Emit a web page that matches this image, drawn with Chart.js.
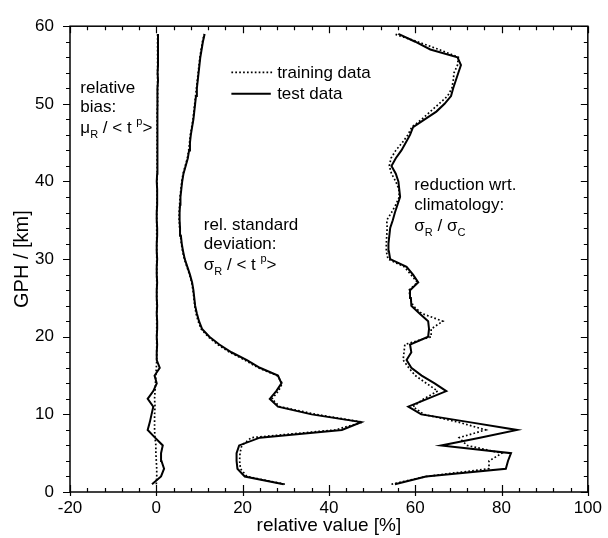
<!DOCTYPE html>
<html lang="en">
<head>
    <meta charset="utf-8"/>
    <title>GPH profiles</title>
    <script src="https://cdn.jsdelivr.net/npm/chart.js"></script>
    <style>
        html, body { margin: 0; padding: 0; background: #fff; }
        #wrap { width: 608px; height: 538px; }
    </style>
</head>
<body>
<div id="wrap"><canvas id="profileChart" width="608" height="538"></canvas></div>
<script>
    // Height levels in km
    const heights = [1, 2, 3, 4, 5, 6, 7, 8, 9, 10, 11, 12, 13, 14, 15, 16, 17, 18, 19, 20,
        21, 22, 23, 24, 25, 26, 27, 28, 29, 30, 31, 32, 33, 34, 35, 36, 37, 38, 39, 40,
        41, 42, 43, 44, 45, 46, 47, 48, 49, 50, 51, 52, 53, 54, 55, 56, 57, 58, 59];

    // relative bias  mu_R / <t^p>  [%]
    const biasTest = [-1.0, 1.1, 1.8, 1.2, 1.1, 1.5, -0.3, -2.0, -1.5, -1.1, -0.7, -2.0, -0.7, 0.1, -0.4, 0.8, 0.1, 0.1, 0.2, 0.1,
        0.2, 0.2, 0.1, 0.2, 0.1, 0.1, 0.2, 0.1, 0.1, 0.2, 0.1, 0.1, 0.2, 0.2, 0.1, 0.1, 0.2, 0.2, 0.2, 0.1,
        0.2, 0.2, 0.2, 0.3, 0.2, 0.3, 0.3, 0.2, 0.3, 0.3, 0.3, 0.3, 0.4, 0.3, 0.4, 0.4, 0.4, 0.4, 0.4];
    const biasTrain = [0.0, 0.1, 0.1, 0.0, -0.1, -0.1, -0.3, -0.4, -0.4, -0.4, -0.3, -0.4, -0.3, -0.2, -0.1, 0.0, 0.1, 0.1, 0.1, 0.1,
        0.1, 0.1, 0.1, 0.1, 0.1, 0.1, 0.1, 0.1, 0.1, 0.1, 0.1, 0.1, 0.1, 0.1, 0.1, 0.1, 0.1, 0.2, 0.2, 0.2,
        0.2, 0.2, 0.2, 0.2, 0.2, 0.2, 0.2, 0.2, 0.2, 0.3, 0.3, 0.3, 0.3, 0.3, 0.3, 0.3, 0.3, 0.3, 0.3];

    // relative standard deviation  sigma_R / <t^p>  [%]
    const stdTest = [29.5, 20.5, 18.8, 18.6, 18.6, 19.2, 24.0, 43.0, 47.5, 36.0, 28.2, 26.3, 27.8, 29.0, 28.2, 24.0, 21.0, 17.4, 14.6, 12.3,
        10.6, 9.9, 9.4, 9.0, 8.8, 8.6, 8.3, 7.8, 7.2, 6.6, 6.2, 5.9, 5.7, 5.5, 5.4, 5.4, 5.5, 5.6, 5.8, 6.0,
        6.3, 6.8, 7.3, 7.6, 7.8, 8.0, 8.3, 8.6, 8.8, 9.0, 9.2, 9.4, 9.6, 9.8, 10.0, 10.2, 10.5, 10.8, 11.2];
    const stdTrain = [29.8, 21.0, 19.5, 19.3, 19.4, 19.8, 22.0, 41.5, 47.8, 37.0, 28.6, 26.8, 28.3, 29.2, 28.0, 23.6, 20.5, 17.0, 14.2, 12.0,
        10.4, 9.7, 9.2, 8.9, 8.7, 8.5, 8.2, 7.7, 7.1, 6.5, 6.1, 5.8, 5.6, 5.4, 5.3, 5.3, 5.4, 5.5, 5.7, 5.9,
        6.2, 6.7, 7.2, 7.5, 7.7, 7.9, 8.2, 8.5, 8.7, 8.9, 9.1, 9.3, 9.5, 9.7, 9.9, 10.1, 10.4, 10.7, 11.1];

    // reduction wrt. climatology  sigma_R / sigma_C  [%]
    const redTest = [55.3, 62.5, 81.0, 81.5, 82.2, 66.0, 75.0, 83.6, 72.5, 61.4, 58.4, 62.8, 67.2, 64.5, 61.5, 59.1, 58.0, 59.1, 58.8, 63.0,
        63.2, 63.0, 61.0, 59.1, 59.0, 58.8, 60.7, 59.5, 58.0, 54.2, 53.9, 53.8, 54.0, 54.2, 54.8, 55.3, 55.9, 56.5, 56.3, 56.1,
        55.5, 54.5, 55.5, 56.8, 57.8, 58.8, 59.5, 62.2, 64.9, 66.8, 68.3, 68.8, 69.4, 70.0, 70.6, 69.8, 63.5, 60.0, 56.1];
    const redTrain = [54.5, 62.5, 77.1, 77.1, 80.1, 72.0, 70.2, 76.3, 70.0, 62.0, 59.5, 62.0, 65.2, 62.6, 60.0, 58.5, 57.2, 57.4, 57.6, 63.7,
        63.7, 66.4, 61.5, 59.5, 58.8, 58.6, 60.5, 59.0, 57.5, 53.7, 53.3, 53.3, 53.4, 53.5, 53.4, 54.5, 55.5, 56.3, 56.2, 55.5,
        54.5, 54.0, 54.4, 55.5, 57.0, 58.3, 59.2, 61.5, 63.5, 65.5, 67.5, 68.5, 68.8, 69.0, 69.8, 70.0, 65.5, 60.5, 55.2];

    const xTicks = [-20, 0, 20, 40, 60, 80, 100];
    const yTicks = [0, 10, 20, 30, 40, 50, 60];

    const FONT = 'Arial, "Liberation Sans", sans-serif';

    function profile(values) {
        return values.map((v, i) => ({x: v, y: heights[i]}));
    }

    function solid(values) {
        return {data: profile(values), showLine: true, borderColor: '#000', borderWidth: 2,
            pointRadius: 0, tension: 0};
    }

    function dotted(values) {
        return {data: profile(values), showLine: true, borderColor: '#000', borderWidth: 1.7,
            borderDash: [1.7, 2.2], pointRadius: 0, tension: 0};
    }

    // text with sub/superscript runs: [text, 'sub'|'sup'|'']
    function richText(ctx, x, y, parts) {
        let cx = x;
        parts.forEach(([txt, mode]) => {
            if (mode) {
                ctx.font = '11px ' + FONT;
                const dy = mode === 'sub' ? 5 : -8;
                ctx.fillText(txt, cx, y + dy);
            } else {
                ctx.font = '17px ' + FONT;
                ctx.fillText(txt, cx, y);
            }
            cx += ctx.measureText(txt).width;
        });
    }

    // frame, tick marks, legend and curve labels
    const framePlugin = {
        id: 'frame',
        afterDatasetsDraw(chart) {
            const {ctx, chartArea: a, scales: {x, y}} = chart;
            ctx.save();
            ctx.strokeStyle = '#000';
            ctx.lineWidth = 1.5;
            ctx.strokeRect(a.left, a.top, a.right - a.left, a.bottom - a.top);

            ctx.lineWidth = 1.2;
            ctx.beginPath();
            for (let v = -20; v <= 100; v += 4) {
                const px = Math.round(x.getPixelForValue(v)) + 0.5;
                const len = v % 20 === 0 ? 7 : 4;
                ctx.moveTo(px, a.bottom); ctx.lineTo(px, a.bottom - len);
                ctx.moveTo(px, a.top); ctx.lineTo(px, a.top + len);
                if (v % 20 === 0) { ctx.moveTo(px, a.bottom); ctx.lineTo(px, a.bottom + 4); }
            }
            for (let v = 0; v <= 60; v += 2) {
                const py = Math.round(y.getPixelForValue(v)) + 0.5;
                const len = v % 10 === 0 ? 7 : 4;
                ctx.moveTo(a.left, py); ctx.lineTo(a.left - len, py);
                ctx.moveTo(a.right, py); ctx.lineTo(a.right - len, py);
            }
            ctx.stroke();

            // legend
            const lx0 = x.getPixelForValue(17.4), lx1 = x.getPixelForValue(27.0);
            const ly1 = y.getPixelForValue(54.05), ly2 = y.getPixelForValue(51.3);
            ctx.lineWidth = 1.7;
            ctx.setLineDash([1.7, 2.2]);
            ctx.beginPath(); ctx.moveTo(lx0, ly1); ctx.lineTo(lx1, ly1); ctx.stroke();
            ctx.setLineDash([]);
            ctx.lineWidth = 2;
            ctx.beginPath(); ctx.moveTo(lx0, ly2); ctx.lineTo(lx1 - 2, ly2); ctx.stroke();

            ctx.fillStyle = '#000';
            ctx.textBaseline = 'alphabetic';
            ctx.textAlign = 'left';
            ctx.font = '17px ' + FONT;
            const tx = x.getPixelForValue(28.0);
            ctx.fillText('training data', tx, y.getPixelForValue(53.3));
            ctx.fillText('test data', tx, y.getPixelForValue(50.65));

            // curve labels
            const label = (xv, lines) => {
                const px = x.getPixelForValue(xv);
                lines.forEach(([yv, parts]) => richText(ctx, px, y.getPixelForValue(yv), parts));
            };
            label(-17.6, [
                [51.4, [['relative', '']]],
                [48.9, [['bias:', '']]],
                [46.2, [['\u03bc', ''], ['R', 'sub'], [' / < t ', ''], ['p', 'sup'], ['>', '']]]
            ]);
            label(11.0, [
                [33.8, [['rel. standard', '']]],
                [31.3, [['deviation:', '']]],
                [28.6, [['\u03c3', ''], ['R', 'sub'], [' / < t ', ''], ['p', 'sup'], ['>', '']]]
            ]);
            label(59.8, [
                [38.9, [['reduction wrt.', '']]],
                [36.3, [['climatology:', '']]],
                [33.6, [['\u03c3', ''], ['R', 'sub'], [' / \u03c3', ''], ['C', 'sub']]]
            ]);
            ctx.restore();
        }
    };

    const ctx = document.getElementById('profileChart').getContext('2d');
    new Chart(ctx, {
        type: 'scatter',
        data: {
            datasets: [
                solid(biasTest), solid(stdTest), solid(redTest),
                dotted(biasTrain), dotted(stdTrain), dotted(redTrain)
            ]
        },
        options: {
            responsive: false,
            animation: false,
            devicePixelRatio: 1,
            layout: {padding: {top: 18, right: 15, left: 0, bottom: 0}},
            plugins: {legend: {display: false}, tooltip: {enabled: false}},
            scales: {
                x: {
                    type: 'linear', min: -20, max: 100,
                    grid: {display: false, drawTicks: false},
                    border: {display: false},
                    afterBuildTicks: s => { s.ticks = xTicks.map(v => ({value: v})); },
                    ticks: {padding: 6, color: '#000', font: {size: 17, family: FONT}},
                    title: {display: true, text: 'relative value [%]', color: '#000',
                        font: {size: 19, family: FONT}, padding: {top: 0, bottom: 1}},
                    afterFit: s => { s.height = 46; }
                },
                y: {
                    type: 'linear', min: 0, max: 60,
                    grid: {display: false, drawTicks: false},
                    border: {display: false},
                    afterBuildTicks: s => { s.ticks = yTicks.map(v => ({value: v})); },
                    ticks: {padding: 16, color: '#000', font: {size: 17, family: FONT}},
                    title: {display: true, text: 'GPH / [km]', color: '#000',
                        font: {size: 20, family: FONT}, padding: {top: 10, bottom: 0}},
                    afterFit: s => { s.width = 70; }
                }
            }
        },
        plugins: [framePlugin]
    });
</script>
</body>
</html>
